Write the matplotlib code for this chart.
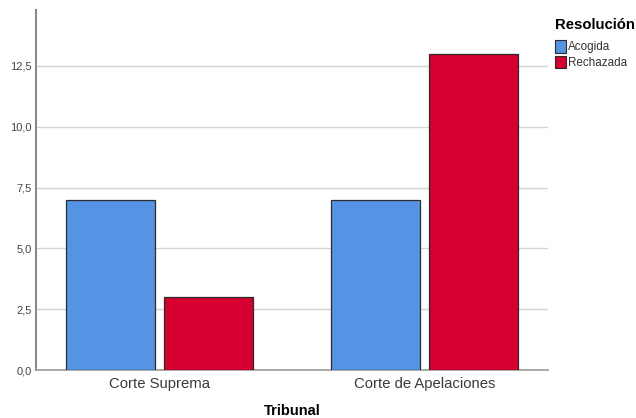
import matplotlib
matplotlib.use("Agg")
import matplotlib.pyplot as plt
import matplotlib.ticker as mticker
from matplotlib.patches import Patch
import numpy as np

plt.rcParams['font.family'] = ['Liberation Sans', 'DejaVu Sans']

tribunales = ["Corte Suprema", "Corte de Apelaciones"]
acogida = [7, 7]
rechazada = [3, 13]
series_names = ["Acogida", "Rechazada"]
yticks = [0, 2.5, 5, 7.5, 10, 12.5]

c_blue = "#5594E4"
c_red = "#D5002F"

fig = plt.figure(figsize=(6.36, 4.18), dpi=100)
ax = fig.add_axes([36/636, 48/418, 512/636, 360/418])

x = np.arange(len(tribunales))
w = 0.336
off = 0.185
ax.bar(x - off, acogida, w, color=c_blue, edgecolor="#2b2b2b", linewidth=0.9, zorder=3)
ax.bar(x + off, rechazada, w, color=c_red, edgecolor="#2b2b2b", linewidth=0.9, zorder=3)

ax.set_xlim(-0.466, 1.466)
ax.set_ylim(0, 14.8)
ax.set_yticks(yticks)
ax.yaxis.set_major_formatter(mticker.FuncFormatter(lambda v, p: f"{v:.1f}".replace(".", ",")))
ax.grid(axis="y", color="#d4d4d4", linewidth=1, zorder=0)
ax.set_xticks(x)
ax.set_xticklabels(tribunales, fontsize=10.7, color="#3a3a3a")
ax.tick_params(axis="y", labelsize=8, colors="#444444", length=0, pad=3)
ax.tick_params(axis="x", length=0, pad=5)

for s in ["top", "right"]:
    ax.spines[s].set_visible(False)
ax.spines["left"].set_color("#8a8a8a")
ax.spines["left"].set_linewidth(1.5)
ax.spines["bottom"].set_color("#9a9a9a")
ax.spines["bottom"].set_linewidth(1.2)

ax.set_xlabel("Tribunal", fontsize=10.5, fontweight="bold")
ax.xaxis.set_label_coords(0.5, -(411 - 370) / 360, transform=ax.transAxes)
ax.xaxis.label.set_verticalalignment("center")

handles = [Patch(facecolor=c_blue, edgecolor="#2b2b2b", linewidth=0.8),
           Patch(facecolor=c_red, edgecolor="#2b2b2b", linewidth=0.8)]
leg = fig.legend(handles, series_names, title="Resolución", loc="upper left",
                 bbox_to_anchor=(555/636, 1 - 18/418), frameon=False,
                 fontsize=8.4, title_fontsize=10.7, handlelength=0.95, handleheight=1.25,
                 handletextpad=0.2, labelspacing=0.2, borderaxespad=0, borderpad=0,
                 labelcolor="#333333")
leg.get_title().set_fontweight("bold")
leg._legend_box.align = "left"
leg._legend_box.sep = 6

fig.savefig("out.png", dpi=100)
